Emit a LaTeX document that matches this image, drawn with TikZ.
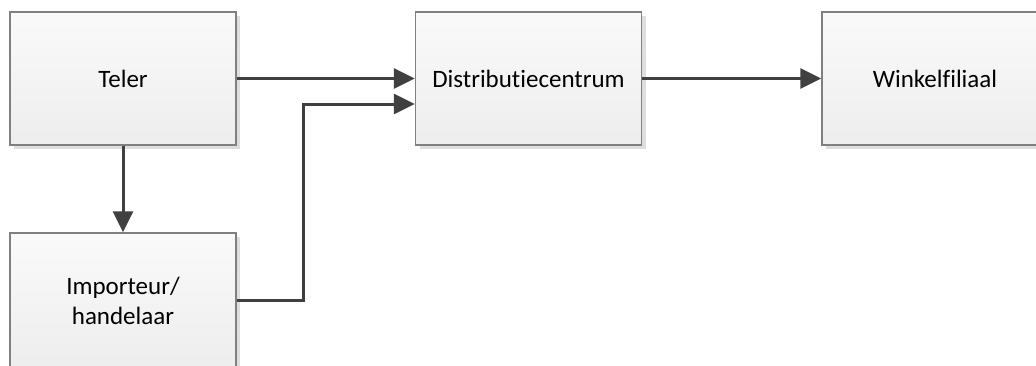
\documentclass[tikz,border=0pt]{standalone}
\usepackage{fontspec}
\setmainfont[Ligatures=NoCommon]{Carlito}
\usetikzlibrary{arrows.meta,shadows}
\begin{document}
\begin{tikzpicture}[x=1pt,y=-1pt,
  box/.style={draw=black!50, line width=1.3pt, top color=black!2, bottom color=black!7,
    minimum width=226pt, minimum height=133pt, inner sep=0pt, align=center,
    font=\fontsize{25}{30}\selectfont,
    drop shadow={shadow xshift=4pt, shadow yshift=-4pt, fill=black!13, opacity=1}},
  conn/.style={draw=black!75, line width=3pt, -{Triangle[length=21pt,width=20pt]}}]
\useasboundingbox (0,0) rectangle (1036,365);
\clip (0,0) rectangle (1036,365);
\node[box] (teler) at (123,78.5) {Teler};
\node[box, minimum height=136pt] (imp) at (123,301) {Importeur/\\handelaar};
\node[box] (dc) at (528.5,78.5) {Distributiecentrum};
\node[box] (wf) at (935,78.5) {Winkelfiliaal};
\draw[conn] (teler.east) -- (dc.west);
\draw[conn] ([yshift=1pt]imp.east) -- ++(67,0) |- ([yshift=-25.5pt]dc.west);
\draw[conn] (teler.south) -- (imp.north);
\draw[conn] (dc.east) -- (wf.west);
\end{tikzpicture}
\end{document}
